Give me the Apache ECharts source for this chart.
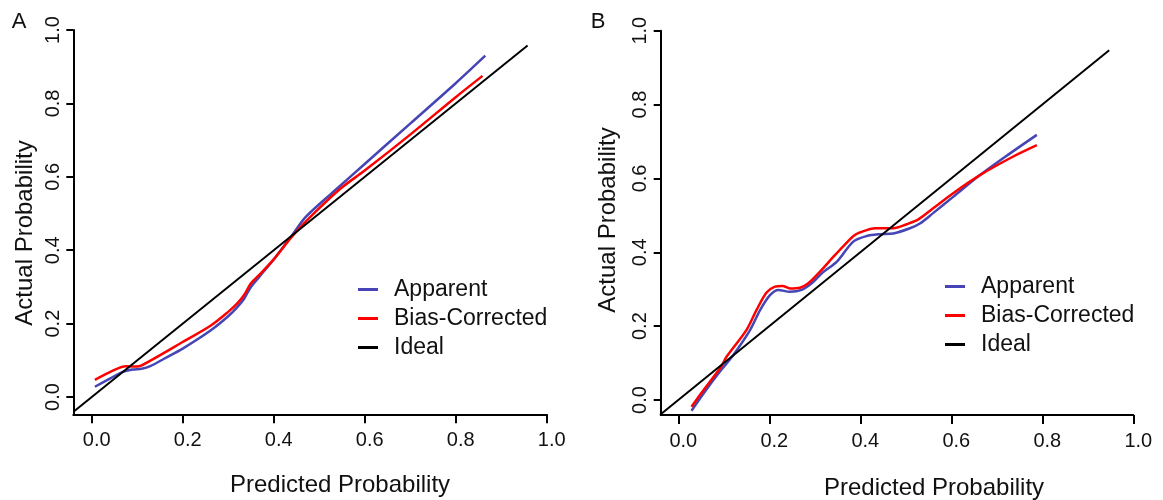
<!DOCTYPE html>
<html>
<head>
<meta charset="utf-8">
<title>Calibration curves</title>
<script src="https://cdn.jsdelivr.net/npm/echarts@6.0.0/dist/echarts.min.js"></script>
<style>
  html, body { margin: 0; padding: 0; background: #fff; }
  #main { width: 1163px; height: 500px; }
</style>
</head>
<body>
<div id="main"></div>
<script>
// tick values shared by both panels
var tickValues = [0, 0.2, 0.4, 0.6, 0.8, 1.0];
var seriesNames = ['Apparent', 'Bias-Corrected', 'Ideal'];

// panel A  [predicted, actual]
var apparentA = [[0.007,0.028],[0.04,0.05],[0.067,0.068],[0.09,0.075],[0.11,0.077],[0.13,0.085],
    [0.16,0.105],[0.2,0.132],[0.262,0.182],[0.3,0.22],[0.32,0.245],[0.335,0.268],[0.35,0.30],
    [0.37,0.33],[0.40,0.375],[0.44,0.44],[0.47,0.49],[0.53,0.558],[0.60,0.635],[0.70,0.745],
    [0.80,0.855],[0.865,0.93]];
var biasA = [[0.007,0.047],[0.04,0.068],[0.075,0.084],[0.10,0.083],[0.13,0.10],[0.2,0.15],
    [0.262,0.195],[0.30,0.232],[0.32,0.255],[0.335,0.278],[0.35,0.31],[0.37,0.335],[0.40,0.375],
    [0.44,0.437],[0.48,0.49],[0.547,0.568],[0.60,0.617],[0.70,0.715],[0.80,0.817],[0.859,0.875]];
var idealA = [[-0.04,-0.04],[0.958,0.958]];

// panel B
var apparentB = [[0.029,-0.029],[0.061,0.027],[0.094,0.081],[0.121,0.122],[0.158,0.19],[0.18,0.244],
    [0.2015,0.284],[0.22,0.298],[0.2455,0.293],[0.271,0.298],[0.293,0.316],[0.319,0.347],
    [0.348,0.374],[0.3846,0.429],[0.414,0.444],[0.443,0.449],[0.4725,0.451],[0.509,0.465],
    [0.531,0.478],[0.56,0.506],[0.604,0.55],[0.663,0.609],[0.72,0.66],[0.788,0.718]];
var biasB = [[0.029,-0.018],[0.061,0.036],[0.094,0.09],[0.106,0.117],[0.15,0.19],[0.172,0.244],
    [0.194,0.291],[0.2125,0.307],[0.229,0.309],[0.2455,0.302],[0.2675,0.304],[0.2857,0.316],
    [0.311,0.347],[0.341,0.388],[0.363,0.417],[0.388,0.447],[0.414,0.46],[0.432,0.465],
    [0.4725,0.465],[0.502,0.476],[0.5275,0.489],[0.56,0.519],[0.604,0.56],[0.663,0.609],
    [0.731,0.656],[0.788,0.69]];
var idealB = [[-0.04,-0.04],[0.947,0.947]];

var colors = ['#4545b5', '#ff0000', '#000000'];
var textColor = '#111';
var fontFamily = '"Liberation Sans", Arial, sans-serif';

var chart = echarts.init(document.getElementById('main'), null, {renderer: 'canvas'});

function xAxisOf(gridIndex, min){
    return {
        type: 'value', gridIndex: gridIndex, min: min, max: 1.0,
        splitLine: {show: false},
        axisLine: {show: true, onZero: false, lineStyle: {color: '#000', width: 2}},
        axisTick: {show: true, length: 9, customValues: tickValues, lineStyle: {color: '#000', width: 2}},
        axisLabel: {
            customValues: tickValues, margin: 16, fontSize: 20, color: textColor,
            fontFamily: fontFamily, padding: [0, 0, 0, 10],
            formatter: function(v){ return v.toFixed(1); }
        }
    };
}
function yAxisOf(gridIndex, min){
    return {
        type: 'value', gridIndex: gridIndex, min: min, max: 1.0,
        splitLine: {show: false},
        axisLine: {show: true, onZero: false, lineStyle: {color: '#000', width: 2}},
        axisTick: {show: true, length: 7, customValues: tickValues, lineStyle: {color: '#000', width: 2}},
        axisLabel: {
            customValues: tickValues, margin: 10, rotate: 90, fontSize: 20, color: textColor,
            fontFamily: fontFamily,
            formatter: function(v){ return v.toFixed(1); }
        }
    };
}
function lineSeries(name, idx, data, color, smooth, width){
    return {
        name: name, type: 'line', xAxisIndex: idx, yAxisIndex: idx, data: data,
        showSymbol: false, symbol: 'none', smooth: smooth,
        lineStyle: {color: color, width: width}, itemStyle: {color: color},
        silent: true, animation: false
    };
}
function legendOf(left, top){
    return {
        orient: 'vertical', left: left, top: top, data: seriesNames,
        itemWidth: 20, itemHeight: 3, itemGap: 6, icon: 'rect',
        selectedMode: false,
        textStyle: {fontSize: 23, lineHeight: 23, color: textColor, fontFamily: fontFamily, padding: [0, 0, 0, 11]}
    };
}
function text(str, x, y, size, rot){
    return {
        type: 'text', x: x, y: y, rotation: rot || 0, silent: true,
        style: {text: str, font: size + 'px ' + fontFamily, fill: textColor,
            align: 'center', verticalAlign: 'middle', textAlign: 'center', textVerticalAlign: 'middle'}
    };
}

chart.setOption({
    animation: false,
    backgroundColor: '#fff',
    grid: [
        {left: 73.3, top: 30, width: 473.4, height: 384.3, outerBoundsMode: 'none'},
        {left: 660.7, top: 30.7, width: 472.6, height: 384.3, outerBoundsMode: 'none'}
    ],
    xAxis: [xAxisOf(0, -0.0404), xAxisOf(1, -0.0387)],
    yAxis: [yAxisOf(0, -0.047), yAxisOf(1, -0.0406)],
    legend: [legendOf(353, 273), legendOf(940, 270)],
    series: [
        lineSeries('Apparent', 0, apparentA, colors[0], 0.3, 2.5),
        lineSeries('Bias-Corrected', 0, biasA, colors[1], 0.3, 2.5),
        lineSeries('Ideal', 0, idealA, colors[2], false, 2),
        lineSeries('Apparent', 1, apparentB, colors[0], 0.3, 2.5),
        lineSeries('Bias-Corrected', 1, biasB, colors[1], 0.3, 2.5),
        lineSeries('Ideal', 1, idealB, colors[2], false, 2)
    ],
    graphic: [
        text('A', 19, 22, 22),
        text('B', 598, 22, 22),
        text('Actual Probability', 25, 233, 24, Math.PI / 2),
        text('Actual Probability', 608, 220, 24, Math.PI / 2),
        text('Predicted Probability', 340, 485, 24),
        text('Predicted Probability', 934, 488, 24)
    ]
});
</script>
</body>
</html>
